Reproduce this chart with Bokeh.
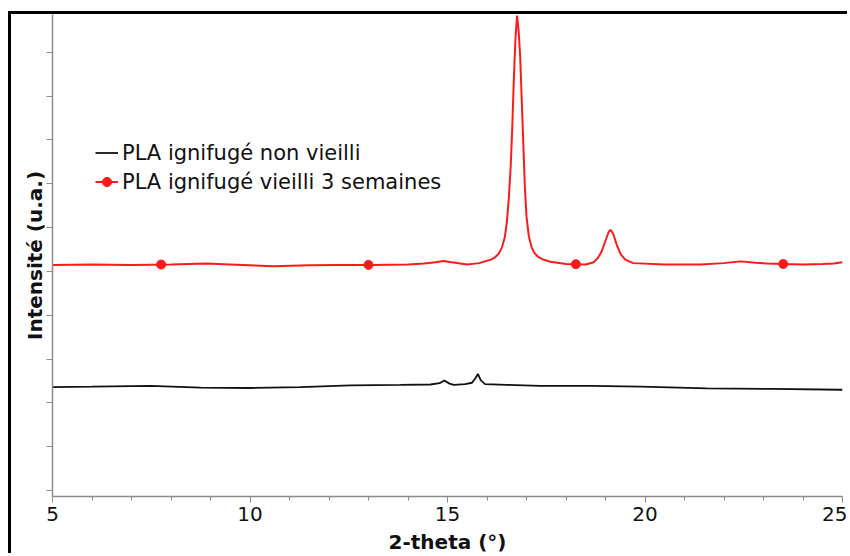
import numpy as np
from bokeh.plotting import figure
from bokeh.models import Range1d, FixedTicker, CustomJSTickFormatter, Legend, LegendItem
from bokeh.embed import file_html
from bokeh.resources import INLINE

# 2-theta (degrees) and intensity (arbitrary units)
red_x = [5.0, 6.0, 7.0, 8.0, 8.9, 9.5, 10.6, 11.5, 12.3, 13.1, 14.0, 14.4, 14.7, 14.9, 15.1,
         15.5, 15.8, 15.95, 16.1, 16.2, 16.3, 16.38, 16.45, 16.5, 16.55, 16.6, 16.64, 16.68,
         16.72, 16.76, 16.80, 16.84, 16.88, 16.92, 16.96, 17.0, 17.06, 17.13, 17.2, 17.3,
         17.4, 17.6, 18.0, 18.5, 18.7, 18.8, 18.9, 19.0, 19.08, 19.13, 19.2, 19.28, 19.38,
         19.5, 19.7, 20.5, 21.4, 22.0, 22.42, 22.8, 23.09, 23.5, 24.0, 24.5, 24.78, 25.0]
red_y = [5.15, 5.16, 5.15, 5.16, 5.18, 5.16, 5.12, 5.14, 5.15, 5.15, 5.16, 5.18, 5.21, 5.24, 5.21,
         5.16, 5.19, 5.23, 5.27, 5.32, 5.41, 5.55, 5.78, 6.1, 6.64, 7.4, 8.3, 9.4,
         10.3, 10.84, 10.5, 9.9, 8.9, 7.9, 6.9, 6.25, 5.8, 5.55, 5.42, 5.33,
         5.28, 5.22, 5.17, 5.16, 5.21, 5.3, 5.45, 5.7, 5.9, 5.95, 5.85, 5.62, 5.4,
         5.27, 5.19, 5.16, 5.16, 5.19, 5.23, 5.20, 5.18, 5.17, 5.16, 5.17, 5.18, 5.21]

black_x = [5.0, 6.0, 7.48, 8.75, 10.0, 11.28, 12.54, 13.81, 14.57, 14.8, 14.92, 15.05, 15.16,
           15.45, 15.62, 15.72, 15.77, 15.84, 15.95, 16.5, 17.35, 18.62, 19.89, 21.57, 23.26,
           24.95, 25.0]
black_y = [2.36, 2.37, 2.39, 2.35, 2.34, 2.36, 2.40, 2.41, 2.42, 2.45, 2.51, 2.44, 2.41,
           2.43, 2.46, 2.58, 2.66, 2.52, 2.43, 2.41, 2.39, 2.39, 2.37, 2.33, 2.32,
           2.30, 2.30]

marker_x = [7.75, 13.0, 18.25, 23.5]

x_major_ticks = [5, 10, 15, 20, 25]
x_minor_ticks = list(range(5, 26))
y_ticks = list(range(0, 11))

labels = ["PLA ignifugé non vieilli", "PLA ignifugé vieilli 3 semaines"]

marker_y = list(np.interp(marker_x, red_x, red_y))

p = figure(width=839, height=542, x_range=Range1d(5, 25), y_range=Range1d(-0.136, 10.864),
           output_backend="svg", toolbar_location=None,
           min_border_left=41, min_border_right=8, min_border_top=0, min_border_bottom=58)
p.margin = (11, 0, 0, 8)
p.styles = {"border-left": "3px solid black", "border-top": "3px solid black"}
p.outline_line_color = None
p.grid.visible = False
p.background_fill_color = "white"
p.border_fill_color = "white"

axis_col = "#8c8c8c"
for ax in (p.xaxis[0], p.yaxis[0]):
    ax.axis_line_color = axis_col
    ax.axis_line_width = 1.5
    ax.major_tick_line_color = axis_col
    ax.minor_tick_line_color = axis_col
    ax.major_tick_in = 0
    ax.minor_tick_in = 0
    ax.major_label_text_font = "DejaVu Sans"
    ax.major_label_text_font_size = "20px"
    ax.major_label_text_color = "#111111"
    ax.axis_label_text_font = "DejaVu Sans"
    ax.axis_label_text_font_size = "20px"
    ax.axis_label_text_font_style = "bold"
    ax.axis_label_text_color = "#111111"

p.xaxis.ticker = FixedTicker(ticks=x_major_ticks, minor_ticks=x_minor_ticks)
p.xaxis.major_tick_out = 6
p.xaxis.minor_tick_out = 4
p.xaxis.major_label_standoff = 4
p.xaxis.axis_label = "2-theta (°)"
p.xaxis.axis_label_standoff = 6

p.yaxis.ticker = FixedTicker(ticks=y_ticks)
p.yaxis.formatter = CustomJSTickFormatter(code="return ''")
p.yaxis.major_tick_out = 6
p.yaxis.minor_tick_line_color = None
p.yaxis.major_label_standoff = 0
p.yaxis.axis_label = "Intensité (u.a.)"
p.yaxis.axis_label_standoff = 0

black_r = p.line(black_x, black_y, line_color="#111111", line_width=1.8)
red_r = p.line(red_x, red_y, line_color="#ff1a1a", line_width=2)
red_pts = p.scatter(marker_x, marker_y, size=9, fill_color="#ff1a1a", line_color="#ff1a1a")

legend = Legend(items=[LegendItem(label=labels[0], renderers=[black_r]),
                       LegendItem(label=labels[1], renderers=[red_r, red_pts])],
                location=(43, 300))
legend.padding = 0
legend.margin = 0
legend.spacing = 0
legend.border_line_color = None
legend.background_fill_alpha = 0
legend.glyph_width = 23
legend.glyph_height = 29
legend.label_height = 29
legend.label_standoff = 4
legend.label_text_font = "DejaVu Sans"
legend.label_text_font_size = "21px"
legend.label_text_color = "#111111"
p.add_layout(legend)

open("out.html", "w").write(file_html(p, INLINE))
